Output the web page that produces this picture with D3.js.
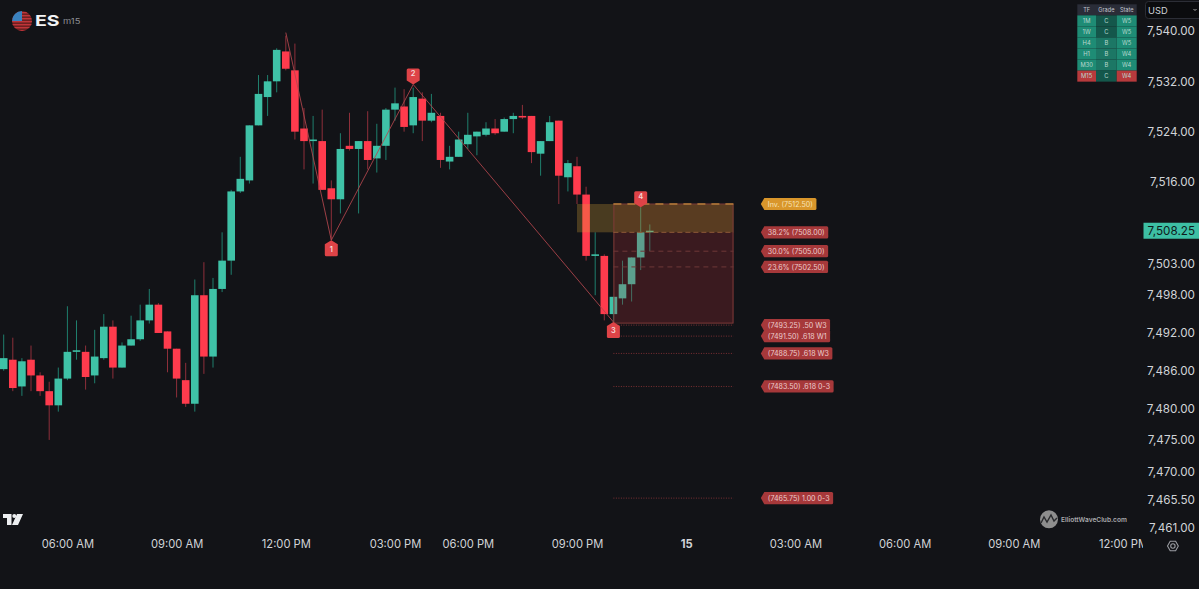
<!DOCTYPE html>
<html><head><meta charset="utf-8">
<script src="https://cdn.jsdelivr.net/npm/d3@7/dist/d3.min.js"></script>
<style>html,body{margin:0;padding:0;background:#121317;overflow:hidden}svg{display:block}text{font-family:Inter,"Noto Sans",sans-serif}</style>
</head><body><svg id="c" width="1199" height="589"></svg>
<script>
const opens=[7486.25,7487.75,7483.5,7487.75,7485.25,7482.75,7480.5,7484.75,7489,7489,7485.25,7488,7493,7486.5,7490,7491,7494,7496.5,7492.25,7489.5,7484.5,7480.75,7498,7488.25,7499,7503.5,7514.5,7516.25,7525,7529.5,7532,7536.75,7533.75,7524.5,7522.5,7522.5,7515,7513.25,7521.75,7521.25,7522.5,7519.75,7521.75,7527.5,7528,7525,7529.25,7525.75,7526.5,7519.25,7520,7522,7523.25,7523.5,7524.5,7524,7526,7526.5,7526.5,7520.5,7522.5,7525.75,7516.75,7518.5,7514,7504.25,7504.25,7495,7497.5,7499.75,7504,7508];
const highs=[7491.75,7491.25,7488,7490,7485.75,7484.25,7486.5,7496.25,7494,7490,7492.5,7495,7494,7490.5,7494.75,7496.5,7499,7496.75,7492.25,7489.5,7487.25,7500.5,7503.25,7500.75,7508,7514.75,7520,7525,7533,7533,7537.25,7539.25,7538,7527.75,7526.5,7527.5,7516.25,7523.75,7527,7522.5,7527.25,7525.25,7527.75,7531,7530.75,7531,7530.25,7530,7527,7521.75,7524,7527,7524,7525.5,7526,7526.25,7527,7528.25,7526.5,7522.5,7526.5,7525.75,7519.5,7520,7515.25,7508,7504.5,7497.75,7503.5,7504,7512,7509.25];
const lows=[7486,7482.75,7482,7482.75,7482,7475,7479.5,7484.5,7487.75,7483,7484,7487.75,7484.75,7486.5,7490,7490.75,7493.5,7492,7485.75,7481.75,7480.25,7479.5,7485.5,7486.5,7498.5,7501.25,7514.25,7515.75,7525,7526.5,7530.25,7533.75,7522.75,7518,7515.75,7514.75,7506.75,7511,7521,7511,7518,7517.5,7519.5,7525.75,7524,7523.75,7522.5,7525.5,7518.25,7518,7520,7521.25,7520.25,7523.25,7523.5,7524,7523.75,7526,7519,7517,7522.5,7512.5,7514.5,7512.5,7503.5,7498,7494,7493.75,7496.5,7497,7502,7505];
const closes=[7488,7483.25,7487.5,7485.25,7482.75,7480.5,7484.75,7489,7489.25,7485,7488.25,7493,7486.5,7490,7491,7494,7496.5,7492,7489.5,7484.75,7480.75,7498,7488.25,7499,7503.5,7514.5,7516.5,7525,7530,7532,7537,7534,7524,7522.5,7522.75,7514.75,7513.25,7521.25,7521.25,7522.5,7519.5,7521.75,7527.5,7528.5,7524.75,7529.5,7525.75,7527,7519.5,7520,7522.75,7523.5,7524,7524.5,7523.75,7526,7526.5,7526.25,7520.75,7522.5,7525.5,7517,7519,7514,7504.25,7504.5,7495,7497.75,7499.75,7504,7508,7508.25];

const priceTicks=[7540,7532,7524,7516,7503,7498,7492,7486,7480,7475,7470,7465.5,7461];
const timeTickBars=[7,19,31,43,51,63,75,87,99,111,123];
const timeTickLabels=["06:00 AM","09:00 AM","12:00 PM","03:00 PM","06:00 PM","09:00 PM","15","03:00 AM","06:00 AM","09:00 AM","12:00 PM"];

const waveBars=[31,36,45,67,70];
const wavePrices=[7539.75,7506.75,7531.5,7493.75,7512];
const waveNames=["","1","2","3","4"];
const waveUp=[false,true,false,true,false];

const dashedLevels=[7505,7502.5];
const dottedLevels=[7493.25,7491.5,7488.75,7483.5,7465.75];
const tagPrices=[7512.5,7508,7505,7502.5,7493.25,7491.5,7488.75,7483.5,7465.75];
const tagTexts=["Inv. (7512.50)","38.2% (7508.00)","30.0% (7505.00)","23.6% (7502.50)","(7493.25) .50 W3","(7491.50) .618 W1","(7488.75) .618 W3","(7483.50) .618 0-3","(7465.75) 1.00 0-3"];
const lastPrice=7508.25;
const invalidation=7512.5, fibTop=7508, boxBottom=7493.25;
const zoneStartBar=63, boxStartBar=67, boxEndBar=80.2, tagBar=83.2;

const tfRows=["1M","1W","H4","H1","M30","M15"];
const gradeRows=["C","C","B","B","B","C"];
const stateRows=["W5","W5","W5","W4","W4","W4"];
const tableHead=["TF","Grade","State"];

const svg=d3.select("#c");
const W=1199,H=589,plotR=1143;
const AXF='"Liberation Sans",Arial,sans-serif';
svg.append("rect").attr("width",W).attr("height",H).attr("fill","#121317");
const defs=svg.append("defs");
defs.append("clipPath").attr("id","plot").append("rect").attr("x",0).attr("y",0).attr("width",plotR).attr("height",H);
defs.append("clipPath").attr("id","flag").append("circle").attr("cx",22).attr("cy",21).attr("r",10);

const x=d3.scaleLinear().domain([0,1]).range([3.7,12.8]);
const y=d3.scaleLinear().domain([7540,7461]).range([31,528]);

const G="#3fc2a7",R="#ff3b4d",GW="#1f7f6d",RW="#8e2f3a";
const bars=opens.map((o,i)=>({i,o,h:highs[i],l:lows[i],c:closes[i],up:closes[i]>=opens[i]}));
const root=svg.append("g").attr("clip-path","url(#plot)");
const cs=root.append("g");
cs.selectAll("line").data(bars).join("line")
 .attr("x1",d=>x(d.i)).attr("x2",d=>x(d.i)).attr("y1",d=>y(d.h)).attr("y2",d=>y(d.l))
 .attr("stroke",d=>d.up?GW:RW).attr("stroke-width",1);
cs.selectAll("rect").data(bars).join("rect")
 .attr("x",d=>x(d.i)-3.8).attr("width",7.6)
 .attr("y",d=>Math.min(y(d.o),y(d.c)))
 .attr("height",d=>Math.max(1.4,Math.abs(y(d.o)-y(d.c))))
 .attr("fill",d=>d.up?G:R);

// zones
const ov=root.append("g");
ov.append("rect").attr("x",x(boxStartBar)).attr("width",x(boxEndBar)-x(boxStartBar))
 .attr("y",y(fibTop)).attr("height",y(boxBottom)-y(fibTop)-2)
 .attr("fill","rgba(190,52,60,0.24)");
ov.append("rect").attr("x",x(zoneStartBar)).attr("width",x(boxEndBar)-x(zoneStartBar))
 .attr("y",y(invalidation)).attr("height",y(fibTop)-y(invalidation))
 .attr("fill","rgba(222,170,60,0.27)");
ov.append("rect").attr("x",x(boxStartBar)).attr("width",x(boxEndBar)-x(boxStartBar))
 .attr("y",y(invalidation)).attr("height",y(fibTop)-y(invalidation))
 .attr("fill","rgba(190,70,40,0.14)");
ov.append("rect").attr("x",x(boxStartBar)+.5).attr("width",x(boxEndBar)-x(boxStartBar)-1)
 .attr("y",y(invalidation)).attr("height",y(boxBottom)-y(invalidation)-2)
 .attr("fill","none").attr("stroke","#7c3a38").attr("stroke-width",1);
ov.append("line").attr("x1",x(boxStartBar)).attr("x2",x(boxEndBar)).attr("y1",y(invalidation)).attr("y2",y(invalidation))
 .attr("stroke","#b57d38").attr("stroke-width",1.5).attr("stroke-dasharray","8 6");
ov.append("line").attr("x1",x(boxStartBar)).attr("x2",x(boxEndBar)).attr("y1",y(fibTop)).attr("y2",y(fibTop))
 .attr("stroke","#8f5a38").attr("stroke-width",1).attr("stroke-dasharray","5 3");
ov.selectAll(".d").data(dashedLevels).join("line").attr("class","d")
 .attr("x1",x(boxStartBar)).attr("x2",x(boxEndBar)).attr("y1",d=>y(d)).attr("y2",d=>y(d))
 .attr("stroke","#6f3838").attr("stroke-width",1).attr("stroke-dasharray","5 4");
ov.selectAll(".t").data(dottedLevels).join("line").attr("class","t")
 .attr("x1",x(boxStartBar)).attr("x2",x(boxEndBar)).attr("y1",d=>y(d)).attr("y2",d=>y(d))
 .attr("stroke","#7d3034").attr("stroke-width",1).attr("stroke-dasharray","1 1.5");

// wave
const wl=d3.line().x(d=>x(d.b)).y(d=>y(d.p));
const wave=waveBars.map((b,i)=>({b,p:wavePrices[i],n:waveNames[i],up:waveUp[i]}));
root.append("path").attr("d",wl(wave.slice(0,4))).attr("fill","none").attr("stroke","#b4474e").attr("stroke-width",1).attr("opacity",.85);

// wave badges
const bg=root.append("g");
wave.filter(d=>d.n).forEach(d=>{
  const cx=x(d.b),ty=y(d.p),w=13,hw=w/2,h=16;
  let p,ly;
  if(d.up){const s=ty+4,b=ty+h;p=`M${cx},${ty}L${cx+hw},${s}V${b-1.5}q0,1.5 -1.5,1.5H${cx-hw+1.5}q-1.5,0 -1.5,-1.5V${s}Z`;ly=ty+11.5;}
  else{const s=ty-4,b=ty-h;p=`M${cx},${ty}L${cx+hw},${s}V${b+1.5}q0,-1.5 -1.5,-1.5H${cx-hw+1.5}q-1.5,0 -1.5,1.5V${s}Z`;ly=ty-8;}
  bg.append("path").attr("d",p).attr("fill","#de4347");
  bg.append("text").attr("x",cx).attr("y",ly).attr("text-anchor","middle").attr("font-size",7.5).attr("font-weight",600).attr("fill","#f4d6d6").text(d.n);
});

// tags
const tg=root.append("g");
tagPrices.forEach((p,i)=>{
  const yc=y(p),xt=x(tagBar),isInv=i===0;
  const g=tg.append("g");
  const path=g.append("path");
  const tx=g.append("text").attr("x",xt+7).attr("y",yc+2.6).attr("font-size",7.1)
    .attr("fill",isInv?"#f6e2b6":"#eccdcd").text(tagTexts[i]);
  const tw=tx.node().getComputedTextLength();
  const r=xt+7+tw+3.5,hh=6.1;
  path.attr("d",`M${xt},${yc}L${xt+3.5},${yc-hh}H${r-1.5}q1.5,0 1.5,1.5V${yc+hh-1.5}q0,1.5 -1.5,1.5H${xt+3.5}Z`)
    .attr("fill",isInv?"#d9962b":"#a6383a");
});

// price axis
const pa=svg.append("g").attr("transform",`translate(1195,0)`)
 .call(d3.axisLeft(y).tickValues(priceTicks).tickFormat(d3.format(",.2f")).tickSize(0));
pa.select(".domain").remove();
pa.selectAll("text").attr("x",0).attr("font-size",11.7).attr("font-family",AXF).attr("fill","#d1d3d8");

// last price
svg.append("rect").attr("x",1143.5).attr("y",y(lastPrice)-8).attr("width",56).attr("height",16).attr("fill","#3dbfa4");
svg.append("text").attr("x",1195).attr("y",y(lastPrice)+4.2).attr("text-anchor","end").attr("font-size",11.7).attr("font-family",AXF).attr("fill","#0f1a1b").text(d3.format(",.2f")(lastPrice));

// time axis
const ta=svg.append("g").attr("transform","translate(0,538)").attr("clip-path","url(#timeclip)");
defs.append("clipPath").attr("id","timeclip").append("rect").attr("x",0).attr("y",-20).attr("width",plotR).attr("height",60);
ta.call(d3.axisBottom(x).tickValues(timeTickBars).tickFormat((d,i)=>timeTickLabels[i]).tickSize(0));
ta.select(".domain").remove();
ta.selectAll("text").attr("y",2).attr("font-size",11.2).attr("font-family",AXF).attr("fill","#d1d3d8")
 .attr("font-weight",d=>d===75?700:400);

// table
const tbl=svg.append("g");
const colX=[1077.3,1096,1116.7,1136.7],rowH=11.05,rowY=4.3;
const cellFill=(col,r)=>{
  if(col===1) return gradeRows[r]==="C"?"#14574b":"#1c7765";
  return tfRows[r]==="M15"?"#b73a3c":"#1e8c75";
};
tbl.append("rect").attr("x",colX[0]).attr("y",rowY).attr("width",colX[3]-colX[0]).attr("height",rowH).attr("fill","#2a2d38");
tableHead.forEach((t,c)=>tbl.append("text").attr("x",(colX[c]+colX[c+1])/2).attr("y",rowY+7.6).attr("text-anchor","middle").attr("font-size",5.6).attr("fill","#c3c6cd").text(t));
[tfRows,gradeRows,stateRows].forEach((col,c)=>{
  col.forEach((v,r)=>{
    const yy=rowY+rowH*(r+1);
    tbl.append("rect").attr("x",colX[c]).attr("y",yy).attr("width",colX[c+1]-colX[c]).attr("height",rowH).attr("fill",cellFill(c,r));
    tbl.append("text").attr("x",(colX[c]+colX[c+1])/2).attr("y",yy+7.6).attr("text-anchor","middle").attr("font-size",5.8).attr("fill","#b9d8d0").text(v);
  });
});

// USD
svg.append("rect").attr("x",1145.5).attr("y",1.5).attr("width",60).attr("height",17).attr("rx",3).attr("fill","#0b0c0e").attr("stroke","#2c2e36");
svg.append("text").attr("x",1148).attr("y",13.5).attr("font-size",9.3).attr("font-family",AXF).attr("fill","#d1d3d8").text("USD");
svg.append("path").attr("d","M1193.5,9L1195,10.5L1196.5,9").attr("fill","none").attr("stroke","#aaa").attr("stroke-width",1);

// symbol logo
const fl=svg.append("g").attr("clip-path","url(#flag)");
fl.append("rect").attr("x",12).attr("y",11).attr("width",20).attr("height",20).attr("fill","#6e2020");
d3.range(0,7).forEach(k=>fl.append("rect").attr("x",12).attr("y",12+k*3).attr("width",20).attr("height",1.4).attr("fill","#c0353a"));
fl.append("rect").attr("x",12).attr("y",11).attr("width",10).attr("height",10).attr("fill","#3a82bf");
svg.append("text").attr("transform","translate(35,25.5) scale(1.3,1)").attr("font-size",15).attr("font-weight",700).attr("fill","#f2f3f5").text("ES");
svg.append("text").attr("transform","translate(63,24) scale(1.25,1)").attr("font-size",7.5).attr("fill","#8d8f95").text("m15");

// tradingview mark
svg.append("path").attr("d","M3,514H11.5V525H7V518H3ZM12,525L17,514H23L18,525Z").attr("fill","#eceef0");
svg.append("circle").attr("cx",14.3).attr("cy",516).attr("r",2).attr("fill","#eceef0");

// elliott mark
svg.append("circle").attr("cx",1049).attr("cy",519.3).attr("r",9).attr("fill","#8e8e8e");
svg.append("path").attr("d","M1041,523L1044,517L1047,522L1051,515L1054,521L1057,518").attr("fill","none").attr("stroke","#2a2b2e").attr("stroke-width",1.4);
svg.append("text").attr("x",1061).attr("y",521.5).attr("font-size",6.6).attr("font-weight",600).attr("fill","#a9aaad").text("ElliottWaveClub.com");

// gear
svg.append("path").attr("d","M1167.5,546L1170.2,541.3H1175.6L1178.3,546L1175.6,550.7H1170.2Z").attr("fill","none").attr("stroke","#9a9ca2").attr("stroke-width",1.1);
svg.append("circle").attr("cx",1172.9).attr("cy",546).attr("r",2.2).attr("fill","none").attr("stroke","#9a9ca2").attr("stroke-width",1.1);
</script></body></html>
